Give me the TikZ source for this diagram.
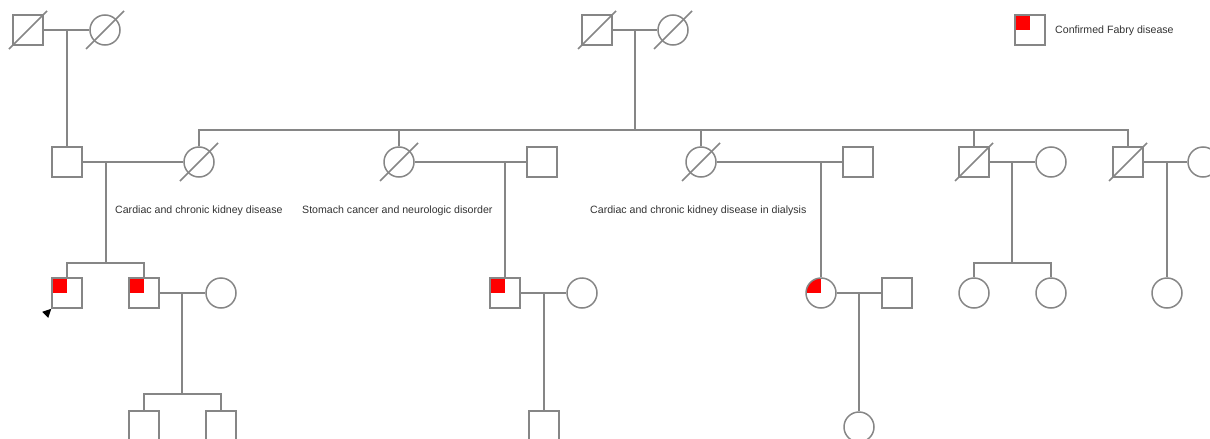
\documentclass[tikz,border=0pt]{standalone}
\usepackage{fontspec}
\setmainfont{Liberation Sans}
\begin{document}
\begin{tikzpicture}[x=1pt,y=-1pt,
  ln/.style={draw=lgray,line width=1.5pt},
  male/.style={rectangle,ln,fill=white,minimum size=30pt,inner sep=0pt},
  female/.style={circle,ln,fill=white,minimum size=30pt,inner sep=0pt},
  affected/.style={path picture={\fill[red] ([shift={(1pt,-1pt)}]path picture bounding box.north west) rectangle (path picture bounding box.center);}},
  lbl/.style={anchor=base west,inner sep=0pt,text=txtgray,font=\fontsize{10.6pt}{12pt}\selectfont},
  conn/.style={ln}
]
\definecolor{lgray}{HTML}{868686}
\definecolor{txtgray}{HTML}{333333}
\clip (0,0) rectangle (1210,439);
\fill[white] (0,0) rectangle (1210,439);

% coordinates of unions
\coordinate (m1) at (67,30);
\coordinate (m2) at (106,162);
\coordinate (m3) at (182,293);
\coordinate (m4) at (635,30);
\coordinate (m5) at (505,162);
\coordinate (m6) at (544,293);
\coordinate (m7) at (821,162);
\coordinate (m8) at (859,293);
\coordinate (m9) at (1012,162);
\coordinate (m10) at (1167,162);
\coordinate (s1) at (106,263);
\coordinate (s2) at (182,394);
\coordinate (s3) at (635,130);
\coordinate (s4) at (1012,263);

% generation I
\node[male] (A1) at (28,30) {};
\node[female] (A2) at (105,30) {};
\node[male] (A3) at (597,30) {};
\node[female] (A4) at (673,30) {};

% generation II
\node[male] (B1) at (67,162) {};
\node[female] (B2) at (199,162) {};
\node[female] (B3) at (399,162) {};
\node[male] (B4) at (542,162) {};
\node[female] (B5) at (701,162) {};
\node[male] (B6) at (858,162) {};
\node[male] (B7) at (974,162) {};
\node[female] (B8) at (1051,162) {};
\node[male] (B9) at (1128,162) {};
\node[female] (B10) at (1203,162) {};

% generation III
\node[male,affected] (C1) at (67,293) {};
\node[male,affected] (C2) at (144,293) {};
\node[female] (C3) at (221,293) {};
\node[male,affected] (C4) at (505,293) {};
\node[female] (C5) at (582,293) {};
\node[female,affected] (C6) at (821,293) {};
\node[male] (C7) at (897,293) {};
\node[female] (C8) at (974,293) {};
\node[female] (C9) at (1051,293) {};
\node[female] (C10) at (1167,293) {};

% generation IV
\node[male] (D1) at (144,426) {};
\node[male] (D2) at (221,426) {};
\node[male] (D3) at (544,426) {};
\node[female] (D4) at (859,427) {};

% deceased slashes
\foreach \n in {A1,A2,A3,A4,B2,B3,B5,B7,B9}
  \draw[ln] ([shift={(-19,19)}]\n.center) -- ([shift={(19,-19)}]\n.center);

% marriage lines
\draw[conn] (A1.east) -- (A2.west);
\draw[conn] (A3.east) -- (A4.west);
\draw[conn] (B1.east) -- (B2.west);
\draw[conn] (B3.east) -- (B4.west);
\draw[conn] (B5.east) -- (B6.west);
\draw[conn] (B7.east) -- (B8.west);
\draw[conn] (B9.east) -- (B10.west);
\draw[conn] (C2.east) -- (C3.west);
\draw[conn] (C4.east) -- (C5.west);
\draw[conn] (C6.east) -- (C7.west);

% descent lines
\draw[conn] (m1) -- (B1.north);
\draw[conn] (m2) -- (s1);
\draw[conn] (m3) -- (s2);
\draw[conn] (m4) -- (s3);
\draw[conn] (m5) -- (C4.north);
\draw[conn] (m6) -- (D3.north);
\draw[conn] (m7) -- (C6.north);
\draw[conn] (m8) -- (D4.north);
\draw[conn] (m9) -- (s4);
\draw[conn] (m10) -- (C10.north);

% sibship lines
\draw[conn] (C1.north) |- (s1) -| (C2.north);
\draw[conn] (D1.north) |- (s2) -| (D2.north);
\draw[conn] (B2.north) |- (s3) -| (B9.north);
\draw[conn] (B3.north) -- (B3.north |- s3);
\draw[conn] (B5.north) -- (B5.north |- s3);
\draw[conn] (B7.north) -- (B7.north |- s3);
\draw[conn] (C8.north) |- (s4) -| (C9.north);

% proband arrow
\coordinate (pa) at (C1.south west);
\fill[black] (pa) -- ++(-9,3) -- ++(6,6) -- cycle;

% labels
\node[lbl] (L1) at (115,213) {Cardiac and chronic kidney disease};
\node[lbl] (L2) at (302,213) {Stomach cancer and neurologic disorder};
\node[lbl] (L3) at (590,213) {Cardiac and chronic kidney disease in dialysis};

% legend
\node[male,affected] (K) at (1030,30) {};
\node[lbl] (KL) at (1055,33) {Confirmed Fabry disease};
\end{tikzpicture}
\end{document}
